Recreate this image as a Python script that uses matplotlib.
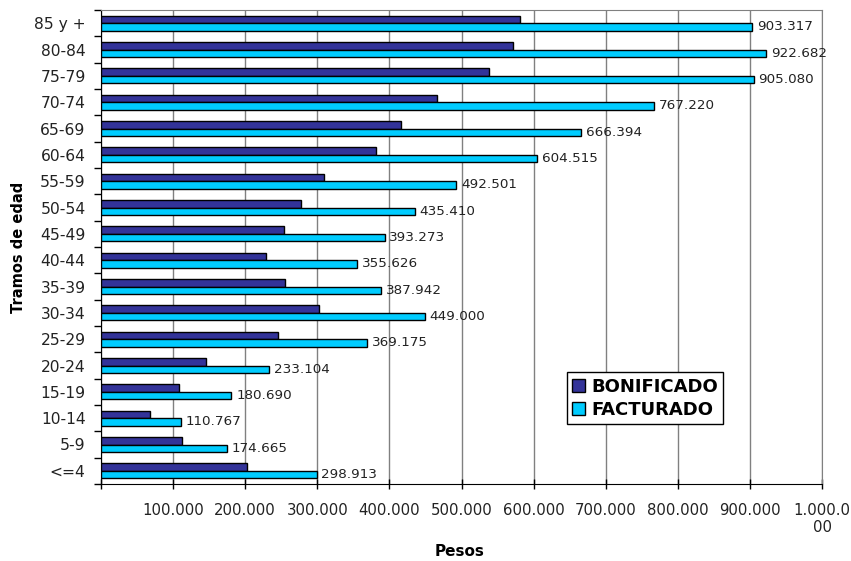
import matplotlib.pyplot as plt
import numpy as np

# Age brackets, bottom to top as drawn
tramos = ['<=4', '5-9', '10-14', '15-19', '20-24', '25-29', '30-34', '35-39',
          '40-44', '45-49', '50-54', '55-59', '60-64', '65-69', '70-74',
          '75-79', '80-84', '85 y +']

bonificado = [203000, 112000, 68000, 107500, 145000, 246000, 302000, 255500,
              229500, 254000, 278000, 309500, 381500, 416500, 465500,
              538500, 572000, 581500]

facturado = [298913, 174665, 110767, 180690, 233104, 369175, 449000, 387942,
             355626, 393273, 435410, 492501, 604515, 666394, 767220,
             905080, 922682, 903317]

xticks = [0, 100000, 200000, 300000, 400000, 500000, 600000, 700000,
          800000, 900000, 1000000]
xtick_labels = ['', '100.000', '200.000', '300.000', '400.000', '500.000',
                '600.000', '700.000', '800.000', '900.000', '1.000.0\n00']


def fmt(v):
    return f"{v:,}".replace(',', '.')


fig = plt.figure(figsize=(8.51, 5.61), dpi=100)
ax = fig.add_axes([101 / 851, 1 - 484 / 561, 721 / 851, 474 / 561])

y = np.arange(len(tramos))
h = 0.28
ax.barh(y + h / 2, bonificado, height=h, color='#333399', edgecolor='black',
        linewidth=1, label='BONIFICADO', zorder=3)
bars = ax.barh(y - h / 2, facturado, height=h, color='#00CCFF', edgecolor='black',
               linewidth=1, label='FACTURADO', zorder=3)

# data labels only on FACTURADO
for b, v in zip(bars, facturado):
    ax.annotate(fmt(v), (b.get_width(), b.get_y() + b.get_height() / 2),
                xytext=(3.5, 0), textcoords='offset points', ha='left', va='center',
                fontsize=9.7, color='#222222', zorder=4)

ax.set_xlim(0, 1000000)
ax.set_ylim(-0.5, len(tramos) - 0.5)

ax.set_xticks(xticks)
ax.set_xticklabels(xtick_labels, fontsize=10.7, color='#222222')
ax.tick_params(axis='x', direction='inout', length=7, pad=10, width=1)

ax.set_yticks(y)
ax.set_yticklabels(tramos, fontsize=11.2, color='#222222')
ax.set_yticks(np.arange(len(tramos) + 1) - 0.5, minor=True)
ax.tick_params(axis='y', which='major', length=0, pad=11)
ax.tick_params(axis='y', which='minor', direction='out', length=5, width=1)

ax.grid(axis='x', color='#808080', linewidth=1, zorder=0)
ax.spines['top'].set_color('#808080')
ax.spines['right'].set_color('#808080')
ax.spines['left'].set_color('black')
ax.spines['bottom'].set_color('black')

ax.text(460 / 851, 1 - 552 / 561, 'Pesos', transform=fig.transFigure,
        ha='center', va='center', fontsize=11, fontweight='bold')
ax.text(19 / 851, 1 - 247 / 561, 'Tramos de edad', transform=fig.transFigure,
        ha='center', va='center', rotation=90, fontsize=10.5, fontweight='bold')

leg = ax.legend(loc='upper left', bbox_to_anchor=(0.646, 0.236), borderaxespad=0,
                fancybox=False, edgecolor='black', framealpha=1,
                prop={'size': 13, 'weight': 'bold'}, handlelength=0.7,
                handleheight=0.7, handletextpad=0.35, labelspacing=0.3,
                borderpad=0.3)
leg.get_frame().set_linewidth(1)

plt.savefig('out.png', dpi=100)
